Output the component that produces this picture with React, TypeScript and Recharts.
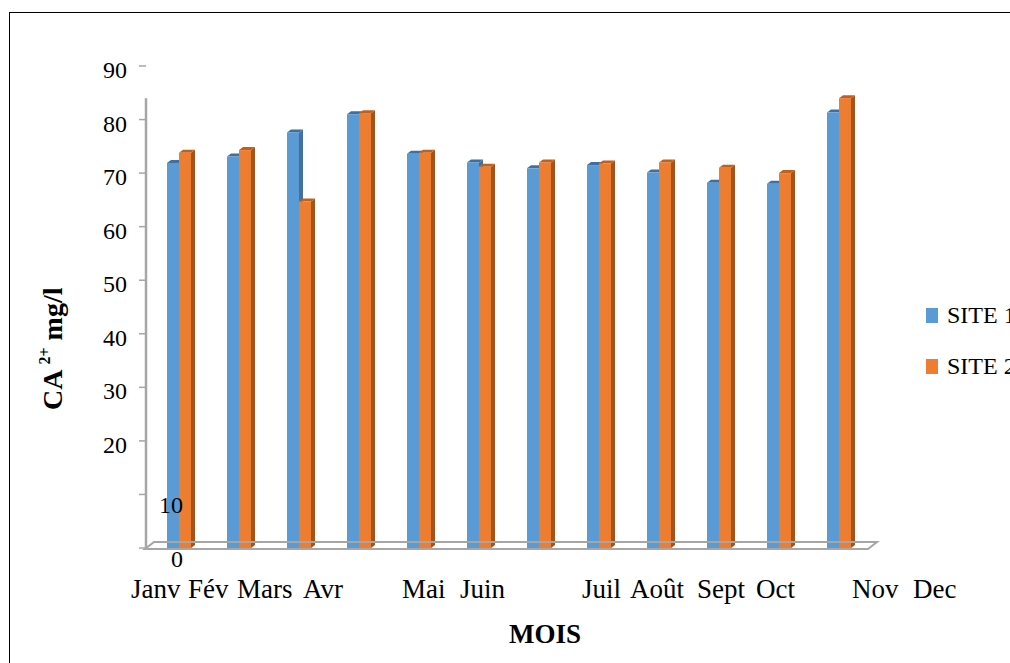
import React from 'react';
import { BarChart, Bar, XAxis, YAxis, ReferenceLine, Legend } from 'recharts';

const MONTHS = ['Janv', 'Fév', 'Mars', 'Avr', 'Mai', 'Juin', 'Juil', 'Août', 'Sept', 'Oct', 'Nov', 'Dec'];
const SITE_1 = [71.9, 73.1, 77.6, 81.0, 73.6, 72.0, 70.9, 71.5, 70.1, 68.2, 68.0, 81.3];
const SITE_2 = [73.8, 74.3, 64.7, 81.2, 73.8, 71.2, 72.0, 71.8, 72.0, 71.0, 70.0, 84.0];
const Y_TICKS = [0, 10, 20, 30, 40, 50, 60, 70, 80, 90];
const AXIS_LINE_TOP = 84;

// the month names sit where the original text box put them, not under the bars
const MONTH_LABEL_X = [131, 188, 237, 303, 402, 460, 582, 630, 697, 756, 852, 913];

const data = MONTHS.map((month, i) => ({ month, site1: SITE_1[i], site2: SITE_2[i] }));

const FONT = "'Liberation Serif', 'Times New Roman', serif";
const GREY = '#A6A6A6';
const BLUE = '#5B9BD5';
const ORANGE = '#ED7D31';
const DX = 4;
const DY = 3;

const make3D = (side: string, top: string) => (props: any) => {
  const { x, y, width, height, fill } = props;
  if (!height || height <= 0) return null;
  const r = x + width;
  const b = y + height;
  return (
    <g>
      <polygon points={`${r},${y} ${r + DX},${y - DY} ${r + DX},${b - DY} ${r},${b}`} fill={side} />
      <polygon points={`${x},${y} ${x + DX},${y - DY} ${r + DX},${y - DY} ${r},${y}`} fill={top} />
      <rect x={x} y={y} width={width} height={height} fill={fill} />
    </g>
  );
};

const BlueBar = make3D('#41719C', '#3E6FA0');
const OrangeBar = make3D('#A5521B', '#C0601E');

const YTick = ({ x, y, payload }: any) => {
  const low = payload.value <= 10;
  return (
    <text
      x={low ? x + 46 : x - 10}
      y={y + (low ? 18.5 : 12)}
      textAnchor="end"
      fontFamily={FONT}
      fontSize={24}
      fill="#000"
    >
      {payload.value}
    </text>
  );
};

const MonthTick = ({ index }: any) => (
  <text x={MONTH_LABEL_X[index]} y={598} fontFamily={FONT} fontSize={27} fill="#000">
    {MONTHS[index]}
  </text>
);

const Floor = ({ x1, y1, x2 }: any) => (
  <polygon
    points={`${x1 - 1},${y1 + 1} ${x2 - 1},${y1 + 1} ${x2 + 8},${y1 - 6} ${x1 + 8},${y1 - 6}`}
    fill="none"
    stroke={GREY}
    strokeWidth={2}
  />
);

const AxisLine = ({ x1, y1, x2, y2 }: any) => (
  <line x1={x1 - 3} y1={y1} x2={x2 - 3} y2={y2} stroke={GREY} strokeWidth={2.5} />
);

const LegendBox = ({ payload }: any) => (
  <div style={{ fontFamily: FONT, fontSize: 24, color: '#000', whiteSpace: 'nowrap' }}>
    {(payload || []).map((p: any) => (
      <div key={p.value} style={{ display: 'flex', alignItems: 'center', height: 51 }}>
        <span style={{ display: 'inline-block', width: 12, height: 15, background: p.color, marginRight: 9 }} />
        <span>{p.value}</span>
      </div>
    ))}
  </div>
);

export default function App() {
  return (
    <div
      style={{
        position: 'fixed',
        left: 0,
        top: 0,
        width: 1010,
        height: 663,
        overflow: 'hidden',
        background: '#fff',
      }}
    >
      <div
        style={{
          position: 'absolute',
          left: 9,
          top: 12,
          width: 1100,
          height: 700,
          border: '1px solid #000',
        }}
      />
      <div style={{ position: 'absolute', left: 0, top: 0 }}>
        <BarChart
          width={1010}
          height={663}
          data={data}
          margin={{ top: 66, right: 141, bottom: 85, left: 0 }}
          barGap={0}
        >
          <XAxis
            dataKey="month"
            axisLine={false}
            tickLine={false}
            height={30}
            interval={0}
            padding={{ left: 3, right: 0 }}
            tick={<MonthTick />}
          />
          <YAxis
            width={146}
            domain={[0, 90]}
            ticks={Y_TICKS}
            interval={0}
            axisLine={false}
            tickSize={7}
            tickLine={{ stroke: GREY, strokeWidth: 1.5 }}
            tick={<YTick />}
          />
          <ReferenceLine y={0} shape={<Floor />} />
          <ReferenceLine
            segment={[
              { x: MONTHS[0], y: 0 },
              { x: MONTHS[0], y: AXIS_LINE_TOP },
            ]}
            position="start"
            shape={<AxisLine />}
          />
          <Legend
            layout="horizontal"
            verticalAlign="middle"
            align="center"
            content={<LegendBox />}
            wrapperStyle={{ left: 926, top: 290, width: 200 }}
          />
          <Bar dataKey="site1" name="SITE 1" fill={BLUE} barSize={12} shape={BlueBar} isAnimationActive={false} />
          <Bar dataKey="site2" name="SITE 2" fill={ORANGE} barSize={12} shape={OrangeBar} isAnimationActive={false} />
        </BarChart>
      </div>
      <svg
        width={1010}
        height={663}
        style={{ position: 'absolute', left: 0, top: 0, pointerEvents: 'none' }}
      >
        <text
          x={62}
          y={410}
          transform="rotate(-90 62 410)"
          fontFamily={FONT}
          fontSize={28}
          fontWeight="bold"
          fill="#000"
        >
          CA
          <tspan dx={5} dy={-12} fontSize={16}>2+</tspan>
          <tspan dy={12}> mg/l</tspan>
        </text>
        <text x={545} y={643} textAnchor="middle" fontFamily={FONT} fontSize={27} fontWeight="bold" fill="#000">
          MOIS
        </text>
      </svg>
    </div>
  );
}
